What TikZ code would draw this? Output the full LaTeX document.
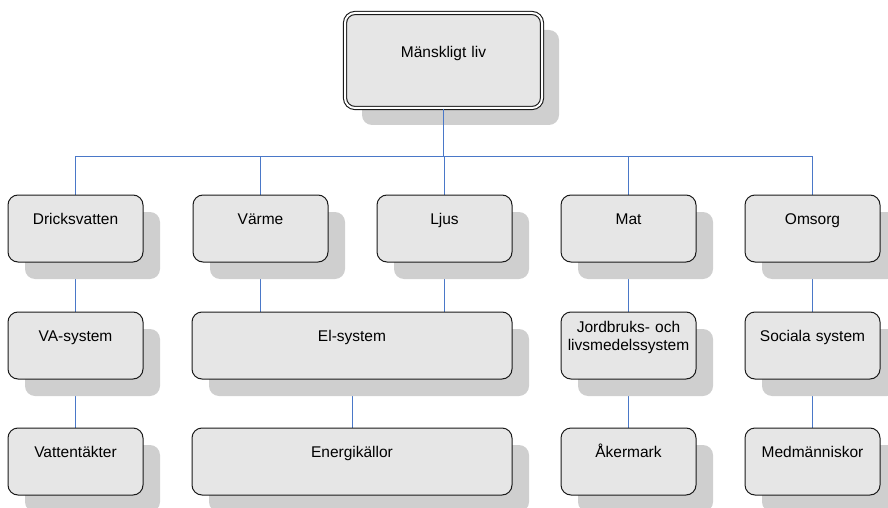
\documentclass[tikz,border=0pt]{standalone}
\usepackage{fontspec}
\setmainfont{Liberation Sans}
\usetikzlibrary{shadows,backgrounds}

\definecolor{boxfill}{HTML}{E6E6E6}
\definecolor{boxshade}{HTML}{CFCFCF}
\definecolor{boxline}{HTML}{1A1A1A}
\definecolor{linkblue}{HTML}{4A78C8}

\tikzset{
  sys/.style={draw=boxline, fill=boxfill, line width=1pt, rounded corners=10pt,
    inner sep=0pt, text width=#1, align=center,
    text height=29.5pt, text depth=37.5pt,
    font=\fontsize{15.5}{18}\selectfont,
    drop shadow={shadow xshift=17pt, shadow yshift=-17pt, fill=boxshade,
      opacity=1, draw=none}},
  sys/.default=135pt,
  link/.style={draw=linkblue, line width=1pt}
}

\begin{document}
\begin{tikzpicture}[x=1pt, y=-1pt]
    \useasboundingbox (0,0) rectangle (888,508);

    % top
    \node [sys=197pt, text height=44.5pt, text depth=50.5pt,
      double=white, double distance=2pt, line width=1.1pt] (mans) at (443.5,60.5) {Mänskligt liv};

    % needs
    \node [sys] (dricks) at (75.5,228.5) {Dricksvatten};
    \node [sys] (varme) at (260.5,228.5) {Värme};
    \node [sys] (ljus) at (444.5,228.5) {Ljus};
    \node [sys] (mat) at (628.5,228.5) {Mat};
    \node [sys] (omsorg) at (812.5,228.5) {Omsorg};

    % systems
    \node [sys] (vasys) at (75.5,345.5) {VA-system};
    \node [sys=320pt] (elsys) at (352,345.5) {El-system};
    \node [sys, text height=20.5pt, text depth=46.5pt] (jordbruk) at (628.5,345.5) {Jordbruks- och\\livsmedelssystem};
    \node [sys] (social) at (812.5,345.5) {Sociala system};

    % resources
    \node [sys] (vatten) at (75.5,461.5) {Vattentäkter};
    \node [sys=320pt] (energi) at (352,461.5) {Energikällor};
    \node [sys] (aker) at (628.5,461.5) {Åkermark};
    \node [sys] (manniskor) at (812.5,461.5) {Medmänniskor};

    \coordinate (bus) at ([yshift=-48pt]mans.south);
    \draw [link] (mans.south) -- (bus);

    \begin{scope}[on background layer]
      \foreach \n in {dricks, varme, ljus, mat, omsorg}
        \draw [link] (bus) -| (\n.north);
      \draw [link] (dricks) -- (vasys);
      \draw [link] (varme) -- (varme |- elsys.north);
      \draw [link] (ljus) -- (ljus |- elsys.north);
      \draw [link] (mat) -- (jordbruk);
      \draw [link] (omsorg) -- (social);
      \draw [link] (vasys) -- (vatten);
      \draw [link] (elsys) -- (energi);
      \draw [link] (jordbruk) -- (aker);
      \draw [link] (social) -- (manniskor);
    \end{scope}
\end{tikzpicture}
\end{document}
